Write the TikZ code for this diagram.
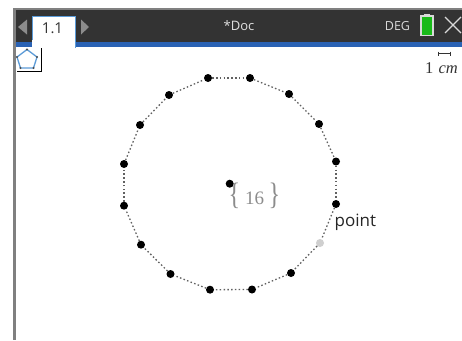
\documentclass[tikz,border=0pt]{standalone}
\usepackage{fontspec}
\setmainfont{Liberation Serif}
\newfontfamily\uifont{Open Sans}
\definecolor{barcol}{HTML}{333333}
\definecolor{bluecol}{HTML}{2A62B4}
\definecolor{framecol}{HTML}{808080}
\definecolor{seamcol}{HTML}{5B9BD8}
\definecolor{greycol}{HTML}{8C8C8C}
\definecolor{fadedot}{HTML}{CFCFCF}
\tikzset{
  pt/.style={circle,fill=black,inner sep=0pt,minimum size=8pt},
  ptfade/.style={pt,fill=fadedot},
  edge/.style={draw=black!62,line width=1.3pt,dash pattern=on 1.5pt off 2.3pt},
  uitext/.style={inner sep=0pt,font=\uifont\fontsize{13}{13}\selectfont},
}
\begin{document}
\begin{tikzpicture}[x=1pt,y=-1pt]
\useasboundingbox (0,0) rectangle (462,340);
\fill[white] (0,0) rectangle (462,340);
% frame and bars
\fill[barcol] (14,9) rectangle (462,42);
\fill[bluecol] (14,42) rectangle (462,47);
\fill[framecol] (13,8) rectangle (462,9.7);
\fill[framecol] (13,8) rectangle (15.5,340);
% tab
\fill[white,draw=seamcol,line width=.7pt] (32,47.5) -- (32,16) -- (75.5,16) -- (75.5,47.5);
\fill[white] (32.4,40) rectangle (75.1,48);
\node[uitext,text=barcol,font=\uifont\fontsize{15}{15}\selectfont] (tab) at (52.5,28.5) {1.1};
\fill[greycol] (18,27) -- (27,19.5) -- (27,34.5) -- cycle;
\fill[greycol] (89,27) -- (81,19.5) -- (81,34.5) -- cycle;
\node[uitext,text=white!88!black] (doc) at (239,26) {*Doc};
\node[uitext,text=white!85!black,font=\uifont\fontsize{12.5}{12.5}\selectfont] (deg) at (397.5,26) {DEG};
% battery
\fill[white!85!black] (419.5,15) rectangle (434,36);
\fill[white!85!black] (423.5,13.5) rectangle (429.5,15.5);
\fill[green!70!black!90!white] (421.7,17) rectangle (431.5,34.5);
% close
\draw[white!85!black,line width=1.3pt] (445,17) -- (461,33) (445,33) -- (461,17);
% tool icon
\draw[black,line width=1pt] (41,48) -- (41,71.5) -- (17,71.5);
\draw[seamcol,line width=1.3pt] (27,49.5) -- (37,57) -- (33.5,68) -- (20.5,68) -- (17,57) -- cycle;
\foreach \q in {(27,49.5),(37,57),(33.5,68),(20.5,68),(17,57)} \fill[black!70] \q circle (1.1pt);
% scale
\draw[black!80,line width=.7pt] (438,51.5) -- (438,55.5) (450,51.5) -- (450,55.5);
\draw[black!80,line width=.9pt] (438,53.5) -- (450,53.5);
\node[inner sep=0pt,text=black!80,font=\fontsize{16.5}{16.5}\selectfont] (scale) at (441.5,68) {1 \hspace{1pt}\textit{cm}};
% polygon
\node[pt] (p1) at (208,78) {};
\node[pt] (p2) at (250,78) {};
\node[pt] (p3) at (289,94) {};
\node[pt] (p4) at (319,124) {};
\node[pt] (p5) at (336,161.5) {};
\node[pt] (p6) at (336,204) {};
\node[ptfade] (p7) at (320,243) {};
\node[pt] (p8) at (291,273) {};
\node[pt] (p9) at (252,289.5) {};
\node[pt] (p10) at (210,289.7) {};
\node[pt] (p11) at (170.5,274) {};
\node[pt] (p12) at (141,244.7) {};
\node[pt] (p13) at (124,205.7) {};
\node[pt] (p14) at (124,164) {};
\node[pt] (p15) at (140,125) {};
\node[pt] (p16) at (169,95) {};
\foreach \a/\b in {p1/p2,p2/p3,p3/p4,p4/p5,p5/p6,p6/p7,p7/p8,p8/p9,p9/p10,p10/p11,p11/p12,p12/p13,p13/p14,p14/p15,p15/p16,p16/p1}
  \draw[edge] (\a) -- (\b);
\node[pt] (center) at (229.7,183.7) {};
\node[inner sep=0pt,xscale=.78,text=greycol,font=\fontsize{31}{31}\selectfont] (brL) at (234.5,196) {\{};
\node[inner sep=0pt,text=greycol,font=\fontsize{19}{19}\selectfont] (num) at (254.5,198.5) {16};
\node[inner sep=0pt,xscale=.78,text=greycol,font=\fontsize{31}{31}\selectfont] (brR) at (274.5,196) {\}};
\node[inner sep=0pt,anchor=base west,text=black!85,font=\uifont\fontsize{17}{17}\selectfont] (lab) at (334.5,226.5) {point};
\end{tikzpicture}
\end{document}
